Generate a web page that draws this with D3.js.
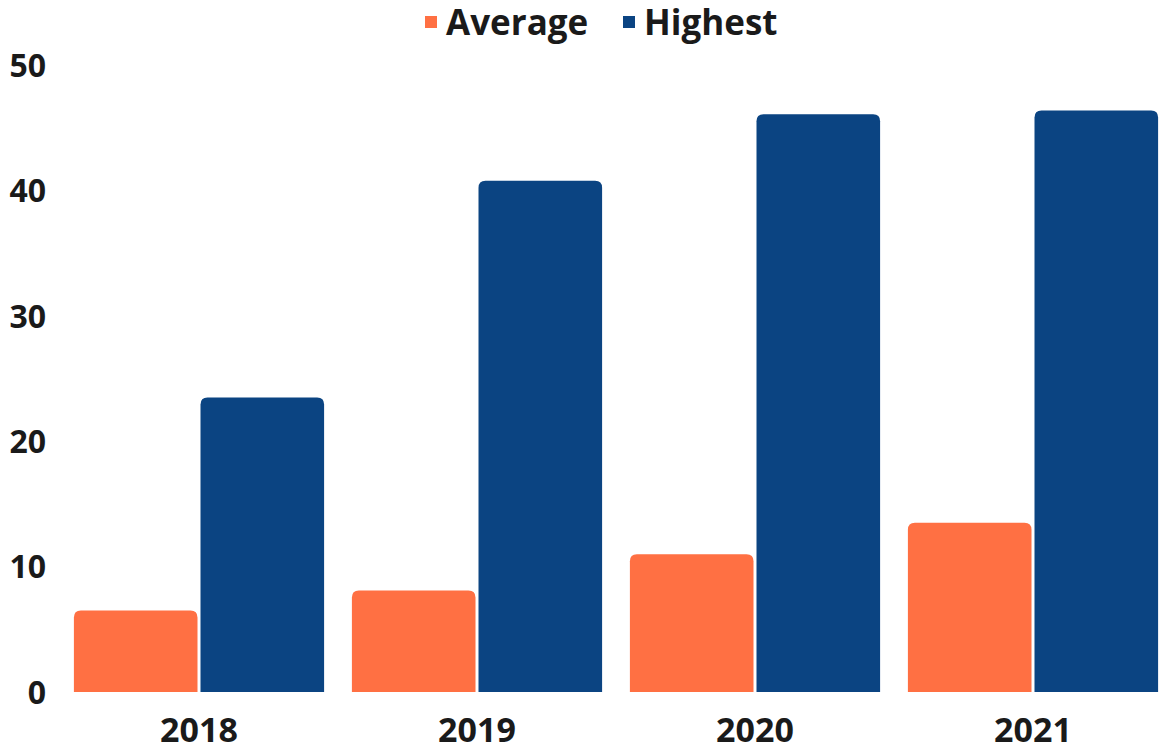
<!DOCTYPE html>
<html lang="en">
<head>
    <meta charset="UTF-8">
    <title>Average vs Highest</title>
    <script src="https://cdn.jsdelivr.net/npm/d3@7"></script>
    <style>
        body { margin: 0; background: #fff; }
        text { font-family: "Open Sans", "Noto Sans", sans-serif; font-weight: 700; fill: #1a1a1a; }
    </style>
</head>
<body>
<script>
    // data
    const years = ["2018", "2019", "2020", "2021"];
    const seriesNames = ["Average", "Highest"];
    const average = [6.5, 8.1, 11.0, 13.5];
    const highest = [23.5, 40.8, 46.1, 46.4];
    const yTicks = [0, 10, 20, 30, 40, 50];
    const colors = ["#ff7043", "#0b4482"];

    const width = 1160, height = 749;

    const svg = d3.select("body").append("svg")
        .attr("width", width)
        .attr("height", height);

    const x = d3.scaleBand()
        .domain(years)
        .range([60, 1172])
        .paddingInner(0.1)
        .paddingOuter(0.05);

    const xs = d3.scaleBand()
        .domain(seriesNames)
        .range([0, x.bandwidth()]);

    const y = d3.scaleLinear()
        .domain([0, 50])
        .range([692, 65.5]);

    // y axis labels
    svg.append("g")
        .selectAll("text")
        .data(yTicks)
        .join("text")
        .attr("x", 46)
        .attr("y", d => y(d))
        .attr("dy", "0.36em")
        .attr("text-anchor", "end")
        .attr("font-size", 32)
        .text(d => d);

    // x axis labels
    svg.append("g")
        .selectAll("text")
        .data(years)
        .join("text")
        .attr("x", d => x(d) + x.bandwidth() / 2)
        .attr("y", 730)
        .attr("dy", "0.36em")
        .attr("text-anchor", "middle")
        .attr("font-size", 34)
        .text(d => d);

    // bar with rounded top corners
    function topRounded(x0, y0, w, h, r) {
        r = Math.min(r, h, w / 2);
        return `M${x0},${y0 + h}V${y0 + r}Q${x0},${y0} ${x0 + r},${y0}H${x0 + w - r}Q${x0 + w},${y0} ${x0 + w},${y0 + r}V${y0 + h}Z`;
    }

    const rows = years.map((yr, i) => ({ year: yr, values: [average[i], highest[i]] }));

    const groups = svg.append("g")
        .selectAll("g")
        .data(rows)
        .join("g")
        .attr("transform", d => `translate(${x(d.year)},0)`);

    groups.selectAll("path")
        .data(d => d.values.map((v, j) => ({ key: seriesNames[j], value: v, j })))
        .join("path")
        .attr("fill", d => colors[d.j])
        .attr("d", d => {
            const bx = xs(d.key) + (d.j === 0 ? 0 : 1.5);
            const bw = xs.bandwidth() - 1.5;
            return topRounded(bx, y(d.value), bw, y(0) - y(d.value), 7);
        });

    // legend
    const legend = svg.append("g");
    const legendItems = [{ name: seriesNames[0], x: 425 }, { name: seriesNames[1], x: 623 }];
    legendItems.forEach((it, i) => {
        legend.append("rect")
            .attr("x", it.x)
            .attr("y", 16)
            .attr("width", 12)
            .attr("height", 12)
            .attr("fill", colors[i]);
        legend.append("text")
            .attr("x", it.x + 21)
            .attr("y", 22)
            .attr("dy", "0.36em")
            .attr("font-size", 35)
            .text(it.name);
    });
</script>
</body>
</html>
